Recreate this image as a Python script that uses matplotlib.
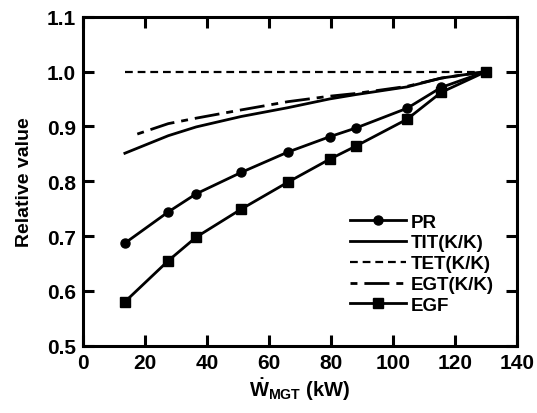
import matplotlib
matplotlib.use('Agg')
import matplotlib.pyplot as plt

plt.rcParams['font.family'] = ['Liberation Sans', 'DejaVu Sans']
plt.rcParams['font.weight'] = 'bold'
plt.rcParams['mathtext.fontset'] = 'custom'
plt.rcParams['mathtext.rm'] = 'Liberation Sans:bold'
plt.rcParams['mathtext.bf'] = 'Liberation Sans:bold'
plt.rcParams['mathtext.it'] = 'Liberation Sans:bold'

# data
potencia = [13.5, 27.5, 36.5, 51, 66, 79.5, 88, 104.5, 115.5, 130]
pr = [0.687, 0.744, 0.777, 0.816, 0.853, 0.881, 0.897, 0.933, 0.971, 1.0]
tit = [0.851, 0.883, 0.899, 0.918, 0.934, 0.950, 0.958, 0.972, 0.988, 1.0]
tet = [1.0, 1.0, 1.0, 1.0, 1.0, 1.0, 1.0, 1.0, 1.0, 1.0]
potencia_egt = [17.5, 27.5, 36.5, 51, 66, 79.5, 88, 104.5, 115.5, 130]
egt = [0.886, 0.905, 0.915, 0.930, 0.945, 0.955, 0.960, 0.973, 0.988, 1.0]
egf = [0.580, 0.655, 0.698, 0.749, 0.798, 0.840, 0.864, 0.913, 0.962, 1.0]

fig = plt.figure(figsize=(5.37, 4.14), dpi=100)
ax = fig.add_axes([0.1546, 0.1626, 0.8084, 0.7946])

lw = 2.0
ax.plot(potencia, pr, color='black', lw=lw, marker='o', markersize=6.5, label='PR')
ax.plot(potencia, tit, color='black', lw=lw, label='TIT(K/K)')
ax.plot(potencia, tet, color='black', lw=1.6, dashes=(3.5, 2.2), label='TET(K/K)')
ax.plot(potencia_egt, egt, color='black', lw=lw, dashes=(2.5, 2.5, 9, 2.5), label='EGT(K/K)')
ax.plot(potencia, egf, color='black', lw=lw, marker='s', markersize=6.5, label='EGF')

ax.set_xlim(0, 140)
ax.set_ylim(0.5, 1.1)
ax.set_xticks(range(0, 141, 20))
ax.set_yticks([0.5, 0.6, 0.7, 0.8, 0.9, 1.0, 1.1])
ax.set_yticklabels(['0.5', '0.6', '0.7', '0.8', '0.9', '1.0', '1.1'])

for s in ax.spines.values():
    s.set_linewidth(2.2)
ax.tick_params(direction='in', length=8, width=2.2, top=True, right=True,
               labelsize=15, pad=5)
for t in ax.get_xticklabels() + ax.get_yticklabels():
    t.set_fontweight('bold')

ax.set_xlabel(r'$\dot{\mathrm{W}}_{\mathrm{MGT}}$ (kW)', fontsize=14.5, fontweight='bold', labelpad=3)
ax.set_ylabel('Relative value', fontsize=14, fontweight='bold', labelpad=10)

leg = ax.legend(loc='lower right', frameon=False, fontsize=13.5, handlelength=3.0,
                handletextpad=0.25, labelspacing=0.2, bbox_to_anchor=(0.985, 0.045))
for t in leg.get_texts():
    t.set_fontweight('bold')

fig.savefig('out.png', dpi=100)
